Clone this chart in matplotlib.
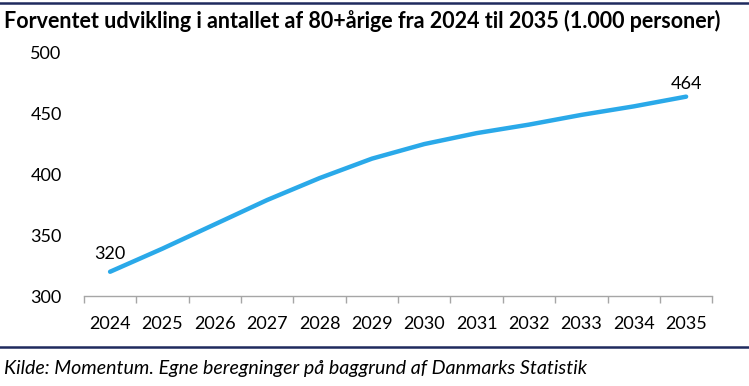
import matplotlib.pyplot as plt
from matplotlib.lines import Line2D

years = ["2024", "2025", "2026", "2027", "2028", "2029",
         "2030", "2031", "2032", "2033", "2034", "2035"]
persons = [320, 339, 359, 379, 397, 413, 425, 434, 441, 449, 456, 464]

plt.rcParams["font.family"] = ["Lato", "DejaVu Sans"]

fig = plt.figure(figsize=(7.49, 3.86), dpi=100)
ax = fig.add_axes([0.112, 0.233, 0.839, 0.63])

x = list(range(len(years)))
ax.plot(x, persons, color="#2aa9e9", linewidth=3.2, solid_capstyle="round")

# labels on first and last point
ax.annotate(str(persons[0]), (x[0], persons[0]), xytext=(0, 7),
            textcoords="offset points", ha="center", va="bottom", fontsize=13)
ax.annotate(str(persons[-1]), (x[-1], persons[-1]), xytext=(0, 3),
            textcoords="offset points", ha="center", va="bottom", fontsize=13)

ax.set_xlim(-0.5, len(years) - 0.5)
ax.set_ylim(300, 500)
ax.set_yticks([300, 350, 400, 450, 500])
ax.set_xticks(x)
ax.set_xticklabels(years)
ax.set_xticks([i - 0.5 for i in range(len(years) + 1)], minor=True)

ax.tick_params(axis="x", which="major", length=0, pad=14, labelsize=13)
ax.tick_params(axis="x", which="minor", length=5, color="#a6a6a6", width=1)
ax.tick_params(axis="y", length=0, pad=16, labelsize=13)

for s in ["top", "right", "left"]:
    ax.spines[s].set_visible(False)
ax.spines["bottom"].set_color("#a6a6a6")
ax.spines["bottom"].set_linewidth(1)

fig.text(0.006, 0.945, "Forventet udvikling i antallet af 80+årige fra 2024 til 2035 (1.000 personer)",
         fontsize=15.5, fontweight="bold", ha="left", va="center")
fig.text(0.006, 0.045, "Kilde: Momentum. Egne beregninger på baggrund af Danmarks Statistik",
         fontsize=14.1, style="italic", ha="left", va="center")

navy = "#1f2a5e"
fig.add_artist(Line2D([0, 1], [0.992, 0.992], transform=fig.transFigure, color=navy, linewidth=1.8))
fig.add_artist(Line2D([0, 1], [0.101, 0.101], transform=fig.transFigure, color=navy, linewidth=1.8))

fig.savefig("out.png", dpi=100)
